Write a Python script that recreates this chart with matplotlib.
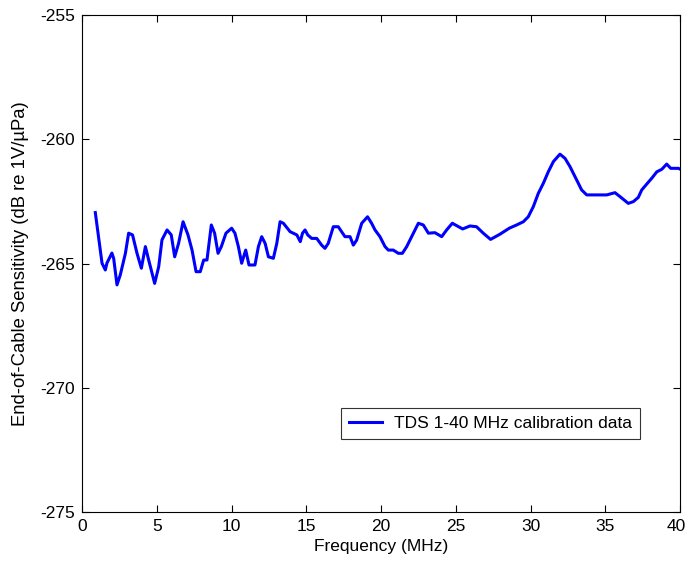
import matplotlib
matplotlib.use("Agg")
import matplotlib.pyplot as plt
import matplotlib.transforms as mtransforms
import numpy as np

plt.rcParams['font.family'] = ['Liberation Sans', 'DejaVu Sans']
plt.rcParams['axes.unicode_minus'] = False

freq_mhz = [0.89, 1.34, 1.56, 1.67, 2.0, 2.12, 2.34, 2.56, 2.9, 3.12, 3.38, 3.68, 3.97,
            4.24, 4.46, 4.86, 5.13, 5.35, 5.69, 5.97, 6.2, 6.46, 6.76, 7.09, 7.36, 7.63,
            7.91, 8.14, 8.36, 8.65, 8.87, 9.1, 9.32, 9.63, 10.01, 10.23, 10.46, 10.68,
            10.95, 11.17, 11.57, 11.8, 12.02, 12.25, 12.47, 12.8, 13.03, 13.25, 13.47,
            13.92, 14.37, 14.6, 14.75, 14.92, 15.1, 15.36, 15.7, 16.03, 16.25, 16.47,
            16.81, 17.14, 17.59, 17.93, 18.15, 18.37, 18.71, 19.1, 19.37, 19.6, 19.93,
            20.27, 20.49, 20.82, 21.16, 21.43, 21.72, 22.05, 22.5, 22.83, 23.17, 23.61,
            24.06, 24.39, 24.77, 25.1, 25.46, 25.95, 26.39, 26.84, 27.33, 27.96, 28.58,
            29.07, 29.52, 29.85, 30.19, 30.52, 30.86, 31.19, 31.53, 31.97, 32.31, 32.64,
            33.09, 33.42, 33.76, 34.43, 35.1, 35.65, 35.99, 36.54, 36.88, 37.21, 37.44,
            37.78, 38.11, 38.45, 38.78, 39.11, 39.38, 39.89, 40.0]
sensitivity_db = [-262.95, -264.99, -265.26, -264.98, -264.58, -264.8, -265.86, -265.46,
                  -264.6, -263.78, -263.85, -264.59, -265.19, -264.32, -264.86, -265.8,
                  -265.13, -264.05, -263.65, -263.85, -264.73, -264.19, -263.32, -263.85,
                  -264.46, -265.33, -265.33, -264.86, -264.86, -263.45, -263.78, -264.59,
                  -264.32, -263.78, -263.58, -263.78, -264.32, -264.99, -264.46, -265.06,
                  -265.06, -264.32, -263.92, -264.19, -264.73, -264.79, -264.19, -263.32,
                  -263.38, -263.72, -263.85, -264.12, -263.78, -263.65, -263.85, -263.99,
                  -263.99, -264.26, -264.39, -264.19, -263.52, -263.52, -263.92, -263.92,
                  -264.26, -264.06, -263.38, -263.12, -263.38, -263.65, -263.92, -264.32,
                  -264.46, -264.46, -264.59, -264.59, -264.32, -263.92, -263.38, -263.45,
                  -263.78, -263.76, -263.92, -263.65, -263.38, -263.49, -263.61, -263.49,
                  -263.52, -263.78, -264.03, -263.82, -263.58, -263.45, -263.32, -263.12,
                  -262.71, -262.18, -261.77, -261.31, -260.9, -260.6, -260.77, -261.1,
                  -261.64, -262.04, -262.24, -262.24, -262.24, -262.15, -262.31, -262.58,
                  -262.51, -262.34, -262.04, -261.8, -261.57, -261.31, -261.21, -261.0,
                  -261.17, -261.17, -261.2]

x_ticks = [0, 5, 10, 15, 20, 25, 30, 35, 40]
y_ticks = [-275, -270, -265, -260, -255]

fig = plt.figure(figsize=(6.88, 5.62), dpi=100)
ax = fig.add_axes([82/688, 1 - 512/562, (680-82)/688, (512-15)/562])
ax.plot(freq_mhz, sensitivity_db, color='#0000ff', linewidth=2.2,
        label='TDS 1-40 MHz calibration data')
ax.set_xlim(0, 40)
ax.set_ylim(-275, -255)
ax.set_xticks(x_ticks)
ax.set_yticks(y_ticks)
ax.tick_params(direction='in', top=True, right=True, length=5, labelsize=12.5, pad=5)
ax.set_xlabel('Frequency (MHz)', fontsize=12.5, labelpad=4)
ax.set_ylabel('End-of-Cable Sensitivity (dB re 1V/\u00b5Pa)', fontsize=13.3, labelpad=8)
for s in ax.spines.values():
    s.set_linewidth(0.8)
# keep the last x tick label inside the figure, as in the reference
last = ax.get_xticklabels()[-1]
last.set_transform(last.get_transform() +
                   mtransforms.ScaledTranslation(-4/100, 0, fig.dpi_scale_trans))
leg = ax.legend(loc='upper left', bbox_to_anchor=((341-82)/598, 1 - (408-15)/497),
                fontsize=12.5, frameon=True, fancybox=False, edgecolor='black',
                borderaxespad=0, handlelength=1.9, handletextpad=0.7, borderpad=0.45)
leg.get_frame().set_linewidth(0.8)
fig.savefig('out.png', dpi=100)
